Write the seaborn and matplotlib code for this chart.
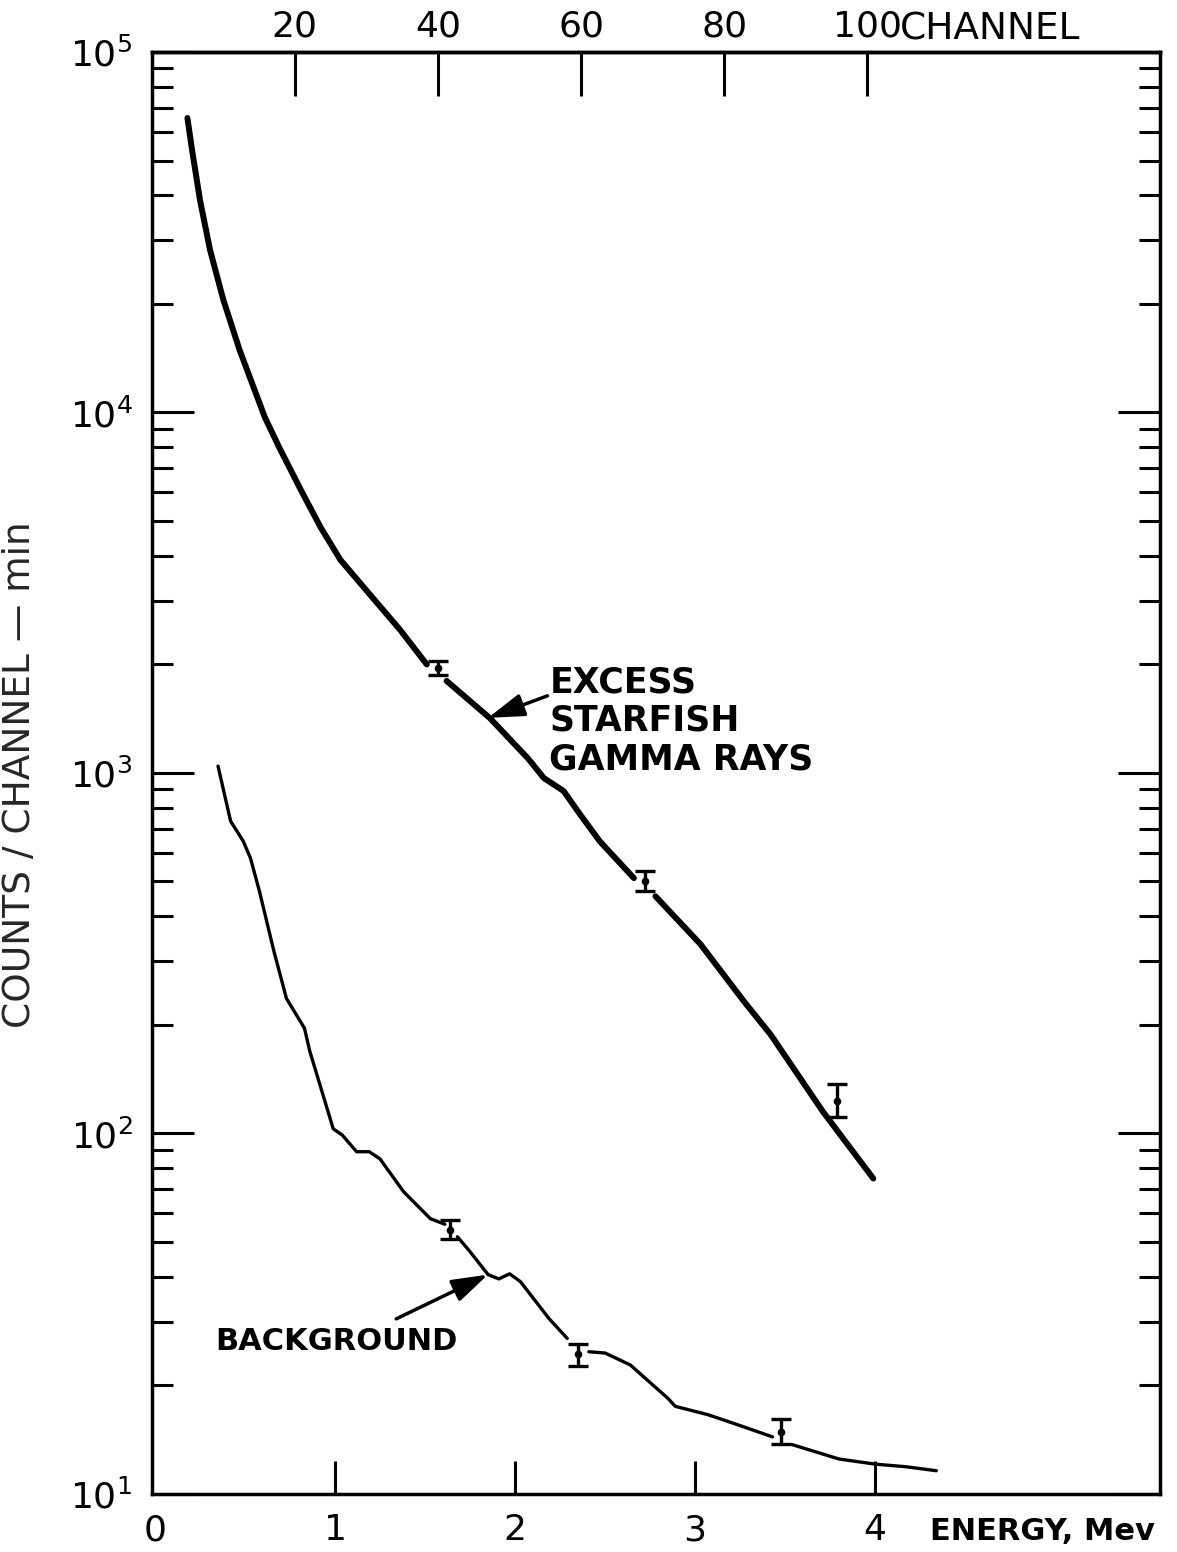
import numpy as np
import pandas as pd
import matplotlib
matplotlib.use("Agg")
import matplotlib.pyplot as plt
import matplotlib.ticker as mticker
import seaborn as sns

# Excess Starfish gamma-ray spectrum (counts / channel-min vs energy, MeV),
# split into pieces where the trace is interrupted by the error bars
excess_energy = [0.18, 0.206, 0.25, 0.306, 0.38, 0.47, 0.61, 0.69, 0.81, 0.92, 1.03, 1.20,
                 1.36, 1.51,
                 1.62, 1.86, 2.07, 2.16, 2.27, 2.36, 2.47, 2.66,
                 2.78, 3.03, 3.27, 3.42, 3.71, 3.99]
excess_counts = [65600, 53400, 38800, 28200, 20500, 14900, 9700, 8000, 6100, 4800, 3900, 3100,
                 2500, 2000,
                 1800, 1420, 1100, 968, 891, 769, 647, 511,
                 455, 335, 233, 188, 115, 75]
excess_piece = [1] * 14 + [2] * 8 + [3] * 6

# Background spectrum
background_energy = [0.35, 0.42, 0.49, 0.53, 0.58, 0.66, 0.73, 0.83, 0.86, 0.99,
                     1.04, 1.12, 1.19, 1.25, 1.38, 1.53, 1.61,
                     1.68, 1.75, 1.85, 1.91, 1.97, 2.03, 2.19, 2.29,
                     2.41, 2.50, 2.64, 2.85, 2.89, 3.07, 3.23, 3.43,
                     3.54, 3.80, 4.00, 4.17, 4.34]
background_counts = [1045, 735, 647, 581, 470, 321, 237, 196, 169, 103,
                     99, 89, 89, 85, 69, 58, 56,
                     51.7, 47, 40.6, 39.5, 40.8, 38.8, 30.6, 27,
                     24.8, 24.6, 22.8, 18.4, 17.5, 16.6, 15.6, 14.4,
                     13.7, 12.5, 12.1, 11.9, 11.6]
background_piece = [1] * 17 + [2] * 8 + [3] * 8 + [4] * 5

# Error bars: energy, central value, lower and upper limits
excess_err_energy = [1.57, 2.72, 3.79]
excess_err_mid = [1960, 500, 123]
excess_err_low = [1871, 470, 111]
excess_err_high = [2046, 535, 137]

background_err_energy = [1.64, 2.35, 3.48]
background_err_mid = [54, 24.5, 14.9]
background_err_low = [51, 22.7, 13.8]
background_err_high = [57.7, 26.1, 16.1]

energy_ticks = [0, 1, 2, 3, 4]
channel_ticks = [20, 40, 60, 80, 100]

sns.set_theme(style="ticks")
plt.rcParams["font.family"] = ["DejaVu Sans"]
plt.rcParams["mathtext.fontset"] = "dejavusans"
plt.rcParams["axes.linewidth"] = 2.5
plt.rcParams["text.color"] = "black"
plt.rcParams["axes.edgecolor"] = "black"
plt.rcParams["xtick.color"] = "black"
plt.rcParams["ytick.color"] = "black"

fig = plt.figure(figsize=(11.77, 15.52), dpi=100)
fig.patch.set_facecolor("white")
ax = fig.add_axes([0.1291, 0.0374, 0.8565, 0.9291])
ax.set_facecolor("white")

excess_df = pd.DataFrame({"energy": excess_energy, "counts": excess_counts,
                          "piece": excess_piece})
background_df = pd.DataFrame({"energy": background_energy, "counts": background_counts,
                              "piece": background_piece})

sns.lineplot(data=excess_df, x="energy", y="counts", units="piece", estimator=None,
             sort=False, color="black", lw=4.3, ax=ax, legend=False)
sns.lineplot(data=background_df, x="energy", y="counts", units="piece", estimator=None,
             sort=False, color="black", lw=2.4, ax=ax, legend=False)

for e, m, lo, hi in [(excess_err_energy, excess_err_mid, excess_err_low, excess_err_high),
                     (background_err_energy, background_err_mid, background_err_low,
                      background_err_high)]:
    m = np.array(m, dtype=float)
    yerr = [m - np.array(lo), np.array(hi) - m]
    ax.errorbar(e, m, yerr=yerr, fmt="o", ms=4.5, color="black",
                elinewidth=2.4, capsize=7, capthick=2.4)

ax.set_yscale("log")
ax.set_ylim(10, 1e5)
ax.set_xlim(-0.017, 5.583)

# energy axis (bottom)
ax.set_xticks(energy_ticks)
ax.set_xticklabels([str(t) for t in energy_ticks])
ax.tick_params(axis="x", which="both", direction="in", length=24, width=2.2,
               labelsize=26, pad=14, top=False, bottom=True)
ax.xaxis.get_major_ticks()[0].tick1line.set_visible(False)
ax.set_xlabel("")

# counts axis (both sides)
ax.yaxis.set_major_locator(mticker.LogLocator(base=10, numticks=10))
ax.yaxis.set_minor_locator(mticker.LogLocator(base=10, subs=np.arange(2, 10), numticks=20))
ax.yaxis.set_major_formatter(mticker.LogFormatterSciNotation())
ax.yaxis.set_minor_formatter(mticker.NullFormatter())
ax.tick_params(axis="y", which="major", direction="in", length=30, width=2.2,
               labelsize=26, pad=14, left=True, right=True)
ax.tick_params(axis="y", which="minor", direction="in", length=15, width=2.2,
               left=True, right=True)
ax.set_ylabel("COUNTS / CHANNEL — min", fontsize=27)
ax.yaxis.set_label_coords(-0.113, 0.499)

# channel axis (top)
top = ax.secondary_xaxis("top", functions=(lambda e: (np.asarray(e) + 0.02) * 25.14,
                                           lambda c: np.asarray(c) / 25.14 - 0.02))
top.set_xticks(channel_ticks)
top.set_xticklabels([str(c) for c in channel_ticks])
top.tick_params(axis="x", direction="in", length=32, width=2.2, labelsize=26, pad=6)
top.spines["top"].set_linewidth(2.5)
ax.text(0.742, 1.0155, "CHANNEL", transform=ax.transAxes, fontsize=27,
        ha="left", va="center")

ax.text(0.772, -0.026, "ENERGY, Mev", transform=ax.transAxes, fontsize=22,
        fontweight="bold", ha="left", va="center")

# curve labels
ax.annotate("", xy=(1.85, 1422), xytext=(2.18, 1637),
            arrowprops=dict(arrowstyle="-|>,head_length=1.1,head_width=0.35",
                            color="black", lw=2.5, mutation_scale=20,
                            shrinkA=0, shrinkB=0))
ax.text(2.19, 1394, "EXCESS\nSTARFISH\nGAMMA RAYS", fontsize=25, fontweight="bold",
        ha="left", va="center", linespacing=1.18)

ax.annotate("", xy=(1.85, 40.6), xytext=(1.34, 30.6),
            arrowprops=dict(arrowstyle="-|>,head_length=1.1,head_width=0.35",
                            color="black", lw=2.5, mutation_scale=20,
                            shrinkA=0, shrinkB=0))
ax.text(1.01, 26.4, "BACKGROUND", fontsize=22, fontweight="bold",
        ha="center", va="center")

for s in ax.spines.values():
    s.set_visible(True)
    s.set_color("black")
    s.set_linewidth(2.5)

fig.savefig("out.png", dpi=100, facecolor="white")
